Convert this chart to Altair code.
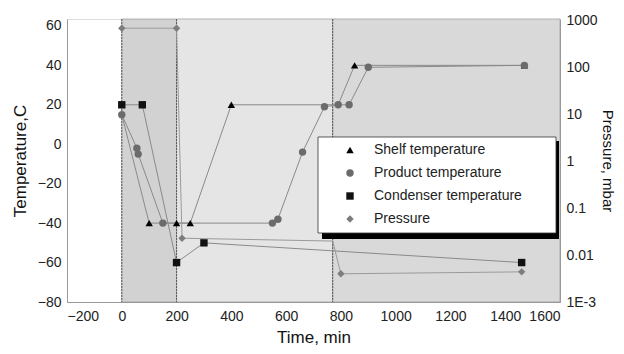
import altair as alt
import pandas as pd

# ---------------- data ----------------
series_names = ["Shelf temperature", "Product temperature",
                "Condenser temperature", "Pressure"]

shelf_time = [0, 100, 200, 250, 400, 790, 850, 1470]
shelf_temp = [15, -40, -40, -40, 20, 20, 40, 40]
shelf_marker = [False, True, True, True, True, False, True, True]

product_time = [0, 55, 60, 150, 550, 570, 660, 740, 790, 830, 900, 1470]
product_temp = [15, -2, -5, -40, -40, -38, -4, 19, 20, 20, 39, 40]
product_marker = [True] * 12

condenser_time = [0, 75, 200, 300, 1460]
condenser_temp = [20, 20, -60, -50, -60]
condenser_marker = [True] * 5

pressure_time = [0, 200, 220, 770, 800, 1460]
pressure_mbar = [700, 700, 0.023, 0.02, 0.004, 0.0044]
pressure_marker = [True, True, True, False, True, True]

phase_start = [0, 200, 770]
phase_end = [200, 770, 1600]
phase_fill = ["#d2d2d2", "#e5e5e5", "#d9d9d9"]
phase_lines = [0, 200, 770]

x_ticks = list(range(-200, 1601, 200))
t_ticks = list(range(-80, 61, 20))
p_ticks = [0.001, 0.01, 0.1, 1, 10, 100, 1000]

# ---------------- tables ----------------
def table(name, t, v, m):
    return pd.DataFrame({"time": t, "value": v, "series": name,
                         "marker": m, "order": list(range(len(t)))})

temp_df = pd.concat([
    table(series_names[0], shelf_time, shelf_temp, shelf_marker),
    table(series_names[1], product_time, product_temp, product_marker),
    table(series_names[2], condenser_time, condenser_temp, condenser_marker),
], ignore_index=True)
pres_df = table(series_names[3], pressure_time, pressure_mbar, pressure_marker)
phase_df = pd.DataFrame({"start": phase_start, "end": phase_end, "fill": phase_fill})
line_df = pd.DataFrame({"t": phase_lines})

W, H = 493, 283
FONT = "Liberation Sans"

x_enc = alt.X("time:Q", scale=alt.Scale(domain=[-200, 1600], nice=False, zero=False),
              axis=alt.Axis(values=x_ticks, format="d", title="Time, min", grid=False,
                            ticks=False, labelFontSize=14, titleFontSize=17, labelPadding=7,
                            titlePadding=6, domainColor="#999999", labelColor="#222222",
                            titleColor="#111111", titleFontWeight="normal",
                            labelFont=FONT, titleFont=FONT))

color_scale = alt.Scale(domain=series_names,
                        range=["#000000", "#6b6b6b", "#111111", "#7d7d7d"])
shape_scale = alt.Scale(domain=series_names,
                        range=["triangle-up", "circle", "square", "diamond"])
legend = alt.Legend(title=None, orient="none", legendX=276, legendY=124, padding=0,
                    labelFontSize=14, labelFont=FONT, labelColor="#222222",
                    rowPadding=9, labelOffset=17, symbolSize=55,
                    symbolStrokeWidth=0)

# background phases
bg = alt.Chart(phase_df).mark_rect(stroke="#9a9a9a", strokeWidth=0.7).encode(
    x=alt.X("start:Q", scale=alt.Scale(domain=[-200, 1600], nice=False)),
    x2="end:Q",
    y=alt.value(0), y2=alt.value(H),
    fill=alt.Fill("fill:N", scale=None),
)
vlines = alt.Chart(line_df).mark_rule(color="#5a5a5a", strokeWidth=1,
                                      strokeDash=[2, 1]).encode(x="t:Q")

# temperature layer
y_temp = alt.Y("value:Q", scale=alt.Scale(domain=[-80, 63.5], nice=False, zero=False),
               axis=alt.Axis(values=t_ticks, title="Temperature,C", grid=False, ticks=False,
                             labelFontSize=14, titleFontSize=17, labelPadding=6,
                             titlePadding=8, domainColor="#999999", labelColor="#222222",
                             titleColor="#111111", titleFontWeight="normal",
                             labelFont=FONT, titleFont=FONT))
temp_base = alt.Chart(temp_df)
temp_lines = temp_base.mark_line(color="#8a8a8a", strokeWidth=1).encode(
    x=x_enc, y=y_temp, detail="series:N", order="order:Q")
temp_points = temp_base.transform_filter("datum.marker").mark_point(
    filled=True, opacity=1, size=55).encode(
    x=x_enc, y=y_temp,
    color=alt.Color("series:N", scale=color_scale, legend=legend),
    shape=alt.Shape("series:N", scale=shape_scale, legend=legend))
temp_layer = alt.layer(temp_lines, temp_points)

# pressure layer
y_pres = alt.Y("value:Q", scale=alt.Scale(type="log", domain=[0.001, 1100], nice=False),
               axis=alt.Axis(orient="right", values=p_ticks, title="Pressure, mbar",
                             grid=False, ticks=False, labelFontSize=14, titleFontSize=15,
                             labelPadding=6, titlePadding=2, domainColor="#999999",
                             labelColor="#222222", titleColor="#111111",
                             titleFontWeight="normal", labelFont=FONT, titleFont=FONT,
                             labelExpr="datum.value < 0.005 ? '1E-3' : format(datum.value, '~g')"))
pres_base = alt.Chart(pres_df)
pres_line = pres_base.mark_line(color="#9a9a9a", strokeWidth=1).encode(
    x=x_enc, y=y_pres, order="order:Q")
pres_points = pres_base.transform_filter("datum.marker").mark_point(
    filled=True, opacity=1, size=55).encode(
    x=x_enc, y=y_pres,
    color=alt.Color("series:N", scale=color_scale, legend=legend),
    shape=alt.Shape("series:N", scale=shape_scale, legend=legend))
pres_layer = alt.layer(pres_line, pres_points)

# legend frame with shadow (decoration)
one = pd.DataFrame({"a": [0]})
shadow = alt.Chart(one).mark_rect(color="#000000").encode(
    x=alt.value(255), x2=alt.value(492), y=alt.value(122), y2=alt.value(220))
box = alt.Chart(one).mark_rect(fill="#ffffff", stroke="#333333", strokeWidth=0.8).encode(
    x=alt.value(251), x2=alt.value(489), y=alt.value(118), y2=alt.value(214))

chart = alt.layer(bg, vlines, temp_layer, pres_layer, shadow, box).resolve_scale(
    y="independent"
).properties(
    width=W, height=H,
    autosize=alt.AutoSizeParams(type="none"),
    padding={"left": 59, "top": 11, "right": 56, "bottom": 44},
).configure_view(stroke=None).configure(background="#ffffff")

chart.save("out.html", embed_options={"renderer": "svg", "actions": False})
